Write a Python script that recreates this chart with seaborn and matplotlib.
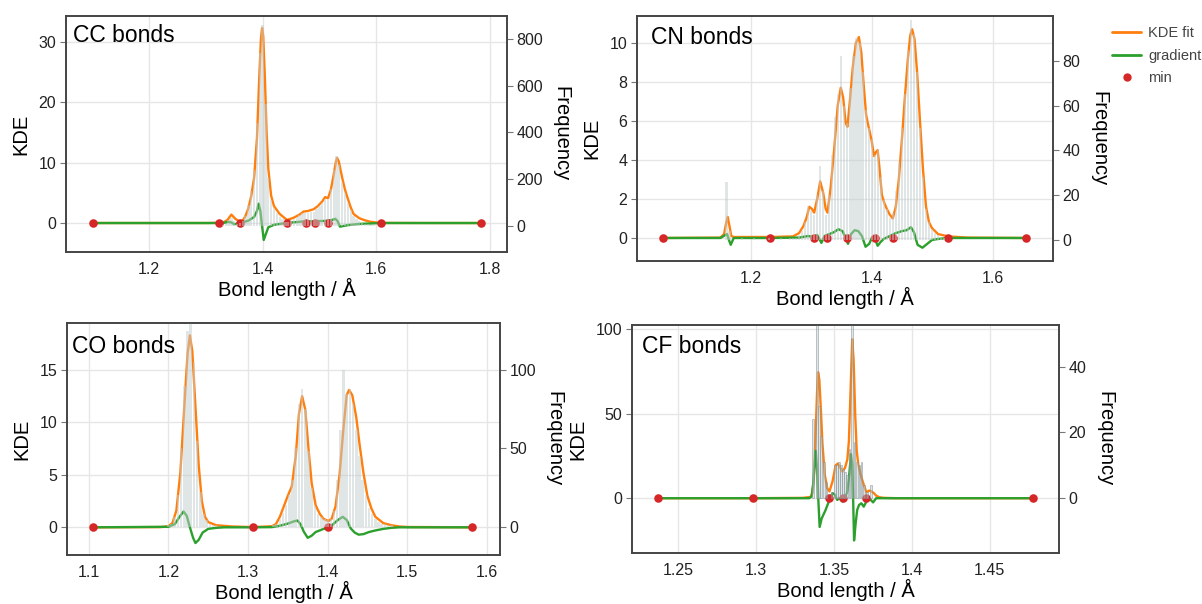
import numpy as np
import seaborn as sns
import matplotlib
matplotlib.use("Agg")
import matplotlib.pyplot as plt
from matplotlib.lines import Line2D
from matplotlib.ticker import FuncFormatter

# ---- CC bonds ----
cc_x = [1.101, 1.20, 1.30, 1.33, 1.338, 1.345, 1.352, 1.36, 1.365, 1.37, 1.375, 1.38, 1.385,
        1.39, 1.394, 1.397, 1.399, 1.401, 1.404, 1.407, 1.41, 1.415, 1.42, 1.43, 1.443, 1.455,
        1.465, 1.472, 1.48, 1.49, 1.497, 1.505, 1.51, 1.515, 1.52, 1.525, 1.529, 1.531, 1.534,
        1.54, 1.545, 1.55, 1.555, 1.56, 1.57, 1.58, 1.59, 1.608, 1.70, 1.784]
cc_kde = [0, 0, 0, 0.05, 0.5, 1.4, 0.7, 0.2, 0.4, 1.2, 2.5, 4.5, 7.5, 14, 24, 30.5, 32.3, 31,
          24, 15, 9, 4.5, 2.8, 1.5, 0.5, 0.9, 1.4, 1.9, 2.0, 2.3, 2.8, 3.6, 4.3, 4.1, 5.5, 8,
          10.2, 10.8, 10.2, 7.5, 5.5, 4, 2.6, 1.5, 0.8, 0.45, 0.2, 0.02, 0, 0]
cc_gx = [1.101, 1.33, 1.34, 1.345, 1.35, 1.36, 1.375, 1.385, 1.39, 1.393, 1.396, 1.399, 1.402,
         1.405, 1.41, 1.42, 1.44, 1.47, 1.51, 1.522, 1.528, 1.532, 1.536, 1.55, 1.57, 1.608, 1.784]
cc_grad = [0, 0, 0.2, 0.1, -0.2, 0, 0.4, 1.0, 2.0, 3.2, 2.0, -0.5, -2.8, -2.0, -0.7, -0.3, 0,
           0.25, 0.35, 0.5, 0.7, 0.3, -0.6, -0.35, -0.15, 0, 0]
cc_min = [1.101, 1.323, 1.360, 1.443, 1.476, 1.492, 1.515, 1.608, 1.784]
cc_bin0, cc_bw = 1.330, 0.005
cc_counts = [5, 10, 25, 35, 20, 10, 12, 20, 45, 90, 150, 240, 440, 740, 860, 520, 210, 110,
             75, 55, 40, 28, 18, 18, 25, 30, 38, 48, 55, 55, 55, 58, 62, 72, 85, 100, 115, 110,
             160, 240, 300, 260, 190, 140, 100, 68, 42, 28, 20, 14, 10, 7, 5, 3, 2]

# ---- CN bonds ----
cn_x = [1.055, 1.15, 1.156, 1.159, 1.162, 1.165, 1.168, 1.172, 1.232, 1.27, 1.28, 1.287, 1.292,
        1.297, 1.301, 1.305, 1.31, 1.315, 1.32, 1.324, 1.327, 1.332, 1.338, 1.344, 1.349, 1.353,
        1.357, 1.36, 1.364, 1.369, 1.374, 1.379, 1.383, 1.387, 1.391, 1.395, 1.40, 1.404, 1.407,
        1.41, 1.413, 1.417, 1.421, 1.425, 1.43, 1.435, 1.44, 1.445, 1.45, 1.455, 1.46, 1.464,
        1.467, 1.471, 1.475, 1.48, 1.485, 1.49, 1.495, 1.50, 1.51, 1.527, 1.56, 1.656]
cn_kde = [0, 0.02, 0.2, 0.7, 1.08, 0.6, 0.1, 0.05, 0.05, 0.08, 0.25, 0.6, 1.0, 1.6, 1.5, 1.3,
          2.0, 2.9, 2.3, 1.5, 1.3, 2.5, 4.5, 6.8, 7.7, 7.2, 5.9, 5.7, 7.0, 8.8, 10.0, 10.3, 9.5,
          7.8, 6.3, 5.7, 5.0, 4.2, 4.4, 4.5, 3.6, 2.2, 1.8, 1.5, 1.2, 1.0, 1.6, 3.0, 5.0, 7.2,
          9.2, 10.4, 10.7, 10.2, 8.6, 6.0, 3.5, 1.6, 0.8, 0.5, 0.2, 0.08, 0.02, 0]
cn_gx = [1.055, 1.15, 1.158, 1.161, 1.164, 1.167, 1.172, 1.232, 1.28, 1.295, 1.305, 1.31, 1.317,
         1.322, 1.33, 1.338, 1.345, 1.352, 1.357, 1.361, 1.366, 1.372, 1.378, 1.384, 1.39, 1.396,
         1.401, 1.405, 1.41, 1.415, 1.42, 1.43, 1.44, 1.45, 1.458, 1.465, 1.47, 1.476, 1.484,
         1.492, 1.50, 1.51, 1.527, 1.656]
cn_grad = [0, 0, 0.15, 0.2, -0.1, -0.35, 0, 0, 0.02, 0.1, 0.05, 0.15, -0.25, 0.1, 0.2, 0.3,
           0.45, 0.35, 0.0, -0.3, 0.2, 0.4, 0.35, 0.1, -0.45, -0.3, 0.05, 0.0, -0.4, -0.2, -0.05,
           0.1, 0.25, 0.35, 0.4, 0.55, 0.3, -0.35, -0.5, -0.3, -0.1, -0.05, 0, 0]
cn_min = [1.055, 1.232, 1.305, 1.326, 1.360, 1.406, 1.435, 1.527, 1.656]
cn_bin0, cn_bw = 1.155, 0.005
cn_counts = [0, 26, 4, 0, 0, 0, 1, 0, 0, 0, 1, 0, 0, 0, 0, 1, 0, 0, 0, 1, 0, 0, 1, 1, 1, 2, 4,
             8, 15, 13, 11, 20, 33, 22, 11, 20, 38, 55, 65, 82, 60, 52, 68, 82, 90, 88, 75, 58,
             50, 45, 38, 40, 28, 18, 14, 10, 12, 22, 35, 50, 65, 85, 98, 92, 75, 50, 28, 14, 8,
             5, 3, 2, 1, 1, 0]

# ---- CO bonds ----
co_x = [1.105, 1.19, 1.20, 1.205, 1.21, 1.215, 1.22, 1.224, 1.227, 1.230, 1.234, 1.238, 1.242,
        1.246, 1.25, 1.26, 1.28, 1.306, 1.33, 1.335, 1.34, 1.345, 1.35, 1.355, 1.36, 1.364,
        1.368, 1.372, 1.376, 1.38, 1.385, 1.39, 1.395, 1.401, 1.405, 1.41, 1.415, 1.42, 1.424,
        1.427, 1.431, 1.436, 1.44, 1.445, 1.45, 1.455, 1.46, 1.47, 1.48, 1.49, 1.50, 1.582]
co_kde = [0, 0.02, 0.1, 0.4, 1.6, 5.2, 11.5, 16.5, 18.3, 16.8, 11.5, 6, 2.5, 1.0, 0.5, 0.2,
          0.08, 0.02, 0.1, 0.3, 1.0, 2.0, 3.0, 3.9, 6.8, 10.8, 12.5, 11.2, 7.5, 4.2, 2.1, 1.3,
          0.8, 0.6, 0.8, 2.0, 5.0, 9.5, 12.6, 13.1, 12.6, 10.5, 8, 5.2, 3.0, 1.8, 1.0, 0.4, 0.2,
          0.08, 0.03, 0]
co_gx = [1.105, 1.20, 1.208, 1.214, 1.219, 1.223, 1.227, 1.231, 1.234, 1.238, 1.243, 1.25,
         1.26, 1.27, 1.306, 1.33, 1.34, 1.35, 1.357, 1.362, 1.366, 1.37, 1.375, 1.38, 1.385,
         1.39, 1.395, 1.401, 1.407, 1.413, 1.419, 1.424, 1.429, 1.434, 1.439, 1.445, 1.452,
         1.46, 1.47, 1.48, 1.49, 1.582]
co_grad = [0, 0.05, 0.3, 1.0, 1.5, 1.1, 0, -1.0, -1.5, -1.2, -0.5, -0.15, -0.05, 0, 0, 0.02,
           0.15, 0.35, 0.55, 0.65, 0.3, -0.4, -1.0, -0.8, -0.45, -0.3, -0.15, -0.1, 0.3, 0.7,
           1.0, 0.7, -0.1, -0.5, -0.7, -0.65, -0.45, -0.3, -0.15, -0.05, 0, 0]
co_min = [1.105, 1.306, 1.401, 1.582]
co_bin0, co_bw = 1.200, 0.004
co_counts = ([1, 2, 6, 20, 50, 90, 125, 140, 105, 55, 22, 8, 4, 2, 1, 1] + [0] * 17 +
             [1, 2, 5, 9, 14, 20, 30, 50, 78, 88, 75, 48, 25, 13, 8, 6, 5, 4, 5, 10, 30, 62,
              100, 85, 88, 78, 62, 45, 30, 20, 12, 8, 5, 3, 2, 2, 1, 1])

# ---- CF bonds ----
cf_x = [1.237, 1.298, 1.33, 1.335, 1.336, 1.337, 1.338, 1.339, 1.3397, 1.3405, 1.3415, 1.3425,
        1.344, 1.3455, 1.347, 1.349, 1.351, 1.3525, 1.354, 1.3554, 1.357, 1.3585, 1.3595,
        1.3605, 1.3616, 1.3625, 1.3635, 1.3645, 1.3655, 1.367, 1.369, 1.3707, 1.3725, 1.374,
        1.3755, 1.377, 1.379, 1.382, 1.39, 1.478]
cf_kde = [0, 0, 0.2, 0.8, 3, 12, 35, 62, 74.5, 70, 52, 32, 14, 6, 4, 10, 19.5, 20.5, 18, 15.7,
          18, 23, 34, 62, 94, 82, 50, 28, 20, 14, 8, 3.5, 4.5, 4.0, 3.0, 1.5, 0.6, 0.2, 0, 0]
cf_gx = [1.237, 1.298, 1.334, 1.3355, 1.3365, 1.3375, 1.3382, 1.339, 1.3398, 1.3407, 1.342,
         1.3445, 1.347, 1.349, 1.3505, 1.352, 1.3535, 1.3554, 1.357, 1.3585, 1.3598, 1.3608,
         1.3616, 1.3622, 1.3628, 1.3638, 1.3648, 1.366, 1.3675, 1.369, 1.3707, 1.372, 1.3735,
         1.375, 1.377, 1.38, 1.478]
cf_grad = [0, 0, 0, 1, 8, 20, 28, 18, 0, -17, -12, -7, -1, 3, 2, -1, 0, -2, 0, 4, 15, 26, 20,
           0, -25, -15, -7, -4, -3, -5, -2, 0.5, -1, -2.5, 0, 0, 0]
cf_min = [1.2367, 1.2976, 1.347, 1.3554, 1.3707, 1.4779]
cf_hist_x = [1.3365, 1.3389, 1.3402, 1.3415, 1.3434, 1.3451, 1.3483, 1.3505, 1.3518, 1.3532,
             1.3545, 1.3558, 1.3571, 1.3584, 1.3599, 1.3616, 1.3630, 1.3648, 1.3662, 1.3676,
             1.3692, 1.3710, 1.3737]
cf_counts = [24, 60, 28, 19, 11, 5, 2, 10, 10, 11, 10, 9, 8, 7, 15, 60, 17, 11, 10, 11, 4, 2, 4]

ORANGE, GREEN, RED = "#ff7f0e", "#2ca02c", "#d62728"

sns.set_theme(style="whitegrid")
plt.rcParams["font.family"] = ["Liberation Sans", "DejaVu Sans"]
plt.rcParams["axes.edgecolor"] = "#444444"
plt.rcParams["grid.color"] = "#e6e6e6"

fig = plt.figure(figsize=(12.02, 6.04), dpi=100)
W, H = 1202, 604


def box(l, r, t, b):
    return [l / W, 1 - b / H, (r - l) / W, (b - t) / H]


def panel(pos, title, tpos, kx, ky, gx, gy, mins, hx, hy, bw, xlim, ylim, ylim2,
          xticks, yticks, y2ticks, edge=None):
    ax = fig.add_axes(pos)
    ax2 = ax.twinx()
    sns.lineplot(x=kx, y=ky, ax=ax, color=ORANGE, lw=1.7, estimator=None, sort=False)
    sns.lineplot(x=gx, y=gy, ax=ax, color=GREEN, lw=1.7, estimator=None, sort=False)
    sns.scatterplot(x=mins, y=[0] * len(mins), ax=ax, color=RED, s=38, linewidth=0, zorder=5)
    ax2.bar(hx, hy, width=bw, color="#c2cdcd", alpha=0.5,
            edgecolor=edge if edge else "none", linewidth=0.7 if edge else 0)
    ax2.grid(False)
    ax.set_xlim(xlim)
    ax.set_ylim(ylim)
    ax2.set_ylim(ylim2)
    ax.set_xticks(xticks)
    ax.set_yticks(yticks)
    ax2.set_yticks(y2ticks)
    ax.xaxis.set_major_formatter(FuncFormatter(lambda v, p: f"{v:g}"))
    for a in (ax, ax2):
        a.tick_params(length=4, width=0.8, color="#777777", labelsize=11.5,
                      labelcolor="#222222", pad=3)
        for s in a.spines.values():
            s.set_linewidth(1.2)
            s.set_color("#444444")
    ax.set_xlabel("Bond length / Å", fontsize=14.5, labelpad=1, color="black")
    ax.set_ylabel("KDE", fontsize=14.5, labelpad=6, color="black")
    ax2.set_ylabel("Frequency", fontsize=14.5, rotation=270, va="bottom", labelpad=6,
                   color="black")
    ax.text(tpos[0], tpos[1], title, transform=ax.transAxes, fontsize=16.5,
            va="top", ha="left", color="black")
    return ax


cc_hx = cc_bin0 + cc_bw * np.arange(len(cc_counts))
cn_hx = cn_bin0 + cn_bw * np.arange(len(cn_counts))
co_hx = co_bin0 + co_bw * np.arange(len(co_counts))

panel(box(66, 507, 16, 252), "CC bonds", (0.015, 0.965), cc_x, cc_kde, cc_gx, cc_grad, cc_min,
      cc_hx, cc_counts, cc_bw * 0.8, (1.054, 1.83), (-4.8, 34.3), (-111, 898),
      [1.2, 1.4, 1.6, 1.8], [0, 10, 20, 30], [0, 200, 400, 600, 800])
panel(box(637, 1053, 16, 261), "CN bonds", (0.034, 0.96), cn_x, cn_kde, cn_gx, cn_grad, cn_min,
      cn_hx, cn_counts, cn_bw * 0.7, (1.012, 1.700), (-1.18, 11.38), (-9.4, 100),
      [1.2, 1.4, 1.6], [0, 2, 4, 6, 8, 10], [0, 20, 40, 60, 80])
panel(box(67, 500, 323, 555), "CO bonds", (0.012, 0.95), co_x, co_kde, co_gx, co_grad, co_min,
      co_hx, co_counts, co_bw * 0.8, (1.0726, 1.6166), (-2.64, 19.48), (-18.06, 130),
      [1.1, 1.2, 1.3, 1.4, 1.5, 1.6], [0, 5, 10, 15], [0, 50, 100])
panel(box(632, 1059, 325, 553), "CF bonds", (0.023, 0.955), cf_x, cf_kde, cf_gx, cf_grad, cf_min,
      cf_hist_x, cf_counts, 0.001, (1.2202, 1.4944), (-32.4, 102.4), (-16.7, 52.7),
      [1.25, 1.3, 1.35, 1.4, 1.45], [0, 50, 100], [0, 20, 40], edge="#7f9094")

handles = [Line2D([], [], color=ORANGE, lw=2),
           Line2D([], [], color=GREEN, lw=2),
           Line2D([], [], color=RED, marker="o", ls="none", markersize=5)]
fig.legend(handles, ["KDE fit", "gradient", "min"], loc="upper left",
           bbox_to_anchor=(1112 / W, 1 - 26 / H), frameon=False, fontsize=10.5,
           labelcolor="#444444", handlelength=2.0, handletextpad=0.5, labelspacing=0.6,
           borderaxespad=0, borderpad=0)

fig.savefig("out.png", dpi=100)
